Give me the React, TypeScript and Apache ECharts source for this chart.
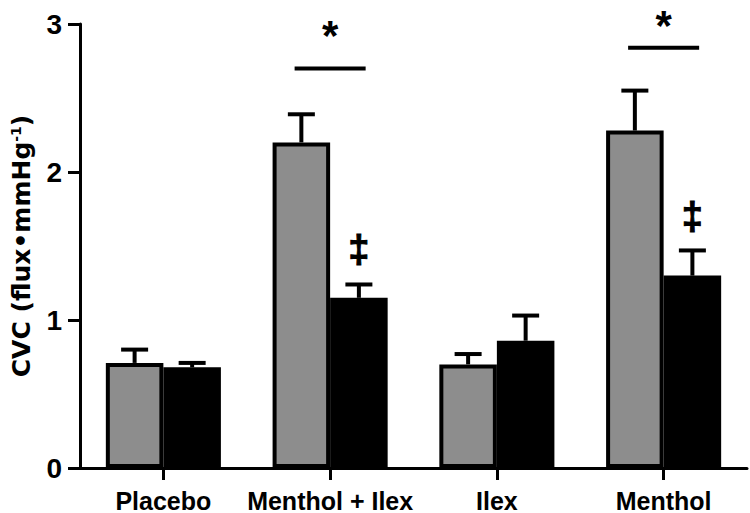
import React, { useEffect, useRef } from 'react';
import * as echarts from 'echarts';

const categories = ['Placebo', 'Menthol + Ilex', 'Ilex', 'Menthol'];
const grayValues = [0.71, 2.2, 0.7, 2.28];
const grayErrors = [0.09, 0.19, 0.07, 0.27];
const blackValues = [0.68, 1.15, 0.86, 1.3];
const blackErrors = [0.03, 0.09, 0.17, 0.17];
const yMin = 0;
const yMax = 3;
const yInterval = 1;
const sigCategories = [1, 3];
const sigLineValues = [2.7, 2.84];
const sigStarValues = [2.95, 3.02];
const daggerCategories = [1, 3];
const daggerValues = [1.48, 1.7];

const BAR_FRAC = 0.345;
const FONT = '"Liberation Sans", Arial, sans-serif';
const STAR_SIZE = 42;

function errorSeries(values: number[], errors: number[], side: number) {
  return {
    type: 'custom',
    z: 5,
    silent: true,
    data: values.map((v, i) => [i, v, v + errors[i]]),
    renderItem: (params: any, api: any) => {
      const band = api.size([1, 0])[0];
      const off = (side * band * BAR_FRAC) / 2;
      const base = api.coord([api.value(0), api.value(1)]);
      const top = api.coord([api.value(0), api.value(2)]);
      const x = base[0] + off;
      return {
        type: 'group',
        children: [
          { type: 'line', shape: { x1: x, y1: base[1], x2: x, y2: top[1] }, style: { stroke: '#000', lineWidth: 4 } },
          { type: 'line', shape: { x1: x - 13.5, y1: top[1], x2: x + 13.5, y2: top[1] }, style: { stroke: '#000', lineWidth: 4 } },
        ],
      };
    },
  };
}

export default function App() {
  const ref = useRef<HTMLDivElement>(null);
  useEffect(() => {
    if (!ref.current) return;
    const chart = echarts.init(ref.current, undefined, { renderer: 'svg' });
    chart.setOption({
      animation: false,
      backgroundColor: '#fff',
      grid: { left: 80, right: 3, top: 24, bottom: 45, containLabel: false },
      xAxis: {
        type: 'category',
        data: categories,
        axisLine: { lineStyle: { color: '#000', width: 3 } },
        axisTick: { show: true, alignWithLabel: true, length: 12, lineStyle: { color: '#000', width: 3 } },
        axisLabel: { color: '#000', fontFamily: FONT, fontWeight: 'bold', fontSize: 25, margin: 20, interval: 0 },
        splitLine: { show: false },
      },
      yAxis: {
        type: 'value',
        min: yMin,
        max: yMax,
        interval: yInterval,
        name: '{a|CVC (flux•mmHg}{s|-1}{a|)}',
        nameLocation: 'middle',
        nameGap: 46,
        nameTextStyle: {
          rich: {
            a: { fontFamily: '"DejaVu Sans", sans-serif', fontWeight: 'bold', fontSize: 25, color: '#000' },
            s: { fontFamily: '"DejaVu Sans", sans-serif', fontWeight: 'bold', fontSize: 14, color: '#000', verticalAlign: 'top', padding: [0, 0, 10, 0] },
          },
        },
        axisLine: { show: true, lineStyle: { color: '#000', width: 3 } },
        axisTick: { show: true, length: 12, lineStyle: { color: '#000', width: 3 } },
        axisLabel: { color: '#000', fontFamily: FONT, fontWeight: 'bold', fontSize: 28, margin: 18 },
        splitLine: { show: false },
      },
      series: [
        {
          type: 'bar',
          data: grayValues,
          barWidth: (BAR_FRAC * 100).toFixed(1) + '%',
          barGap: '0%',
          itemStyle: { color: '#8d8d8d', borderColor: '#000', borderWidth: 4 },
          z: 2,
        },
        {
          type: 'bar',
          data: blackValues,
          barWidth: (BAR_FRAC * 100).toFixed(1) + '%',
          barGap: '0%',
          itemStyle: { color: '#000', borderColor: '#000', borderWidth: 4 },
          z: 2,
        },
        errorSeries(grayValues, grayErrors, -1),
        errorSeries(blackValues, blackErrors, 1),
        {
          type: 'custom',
          z: 6,
          silent: true,
          clip: false,
          data: sigCategories.map((c, i) => [c, sigLineValues[i], sigStarValues[i]]),
          renderItem: (params: any, api: any) => {
            const band = api.size([1, 0])[0];
            const half = band * 0.213;
            const lp = api.coord([api.value(0), api.value(1)]);
            const sp = api.coord([api.value(0), api.value(2)]);
            return {
              type: 'group',
              children: [
                { type: 'line', shape: { x1: lp[0] - half, y1: lp[1], x2: lp[0] + half, y2: lp[1] }, style: { stroke: '#000', lineWidth: 4 } },
                {
                  type: 'text',
                  style: { text: '*', x: sp[0], y: sp[1] - 0.4 * STAR_SIZE, align: 'center', verticalAlign: 'top', font: 'bold ' + STAR_SIZE + 'px ' + FONT, fill: '#000' },
                },
              ],
            };
          },
        },
        {
          type: 'custom',
          z: 6,
          silent: true,
          clip: false,
          data: daggerCategories.map((c, i) => [c, daggerValues[i]]),
          renderItem: (params: any, api: any) => {
            const band = api.size([1, 0])[0];
            const off = (band * BAR_FRAC) / 2;
            const p = api.coord([api.value(0), api.value(1)]);
            return {
              type: 'text',
              style: { text: '‡', x: p[0] + off, y: p[1], align: 'center', verticalAlign: 'middle', font: 'bold 38px ' + FONT, fill: '#000', stroke: '#000', lineWidth: 1 },
            };
          },
        },
      ],
    });
    return () => chart.dispose();
  }, []);
  return <div ref={ref} style={{ position: 'fixed', left: 0, top: 0, width: 750, height: 513, background: '#fff' }} />;
}
